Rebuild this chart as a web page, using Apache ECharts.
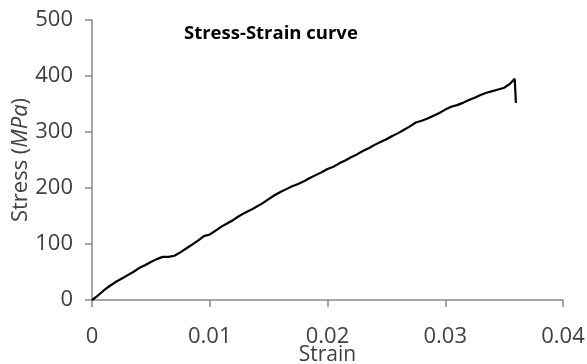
<!DOCTYPE html>
<html>
<head>
<meta charset="utf-8">
<script src="https://cdn.jsdelivr.net/npm/echarts@6/dist/echarts.min.js"></script>
<style>
html,body{margin:0;padding:0;background:#fff;}
#c{width:587px;height:364px;}
</style>
</head>
<body>
<div id="c"></div>
<script>
const strain = [0,0.0005,0.001,0.0015,0.002,0.0025,0.003,0.0035,0.004,0.0045,0.005,0.0055,0.006,0.0065,0.007,0.0075,0.008,0.0085,0.009,0.0095,0.01,0.0105,0.011,0.0115,0.012,0.0125,0.013,0.0135,0.014,0.0145,0.015,0.0155,0.016,0.0165,0.017,0.0175,0.018,0.0185,0.019,0.0195,0.02,0.0205,0.021,0.0215,0.022,0.0225,0.023,0.0235,0.024,0.0245,0.025,0.0255,0.026,0.0265,0.027,0.0275,0.028,0.0285,0.029,0.0295,0.03,0.0305,0.031,0.0315,0.032,0.0325,0.033,0.0335,0.034,0.0345,0.035,0.0355,0.0359,0.036];
const stress = [0,8,17,25,32,38,44,50,57,62,68,73,77,77,79,85,92,99,106,114,117,124,131,137,143,150,156,161,167,173,180,187,193,198,203,207,212,218,223,228,234,238,244,249,255,260,266,271,277,282,287,293,298,304,310,317,320,324,329,334,340,345,348,352,357,361,366,370,373,376,379,386,395,352];
const xTicks = [0,0.01,0.02,0.03,0.04];
const yTicks = [0,100,200,300,400,500];
const titleText = 'Stress-Strain curve';

const chart = echarts.init(document.getElementById('c'), null, {renderer:'canvas'});
const font = 'Open Sans';
chart.setOption({
  animation:false,
  backgroundColor:'#fff',
  title:{text:titleText,left:179,top:19,textStyle:{fontFamily:font,fontWeight:'bold',fontSize:18.5,color:'#000'}},
  grid:{left:92,right:24,top:20,bottom:64,containLabel:false,outerBoundsMode:'none'},
  xAxis:{
    type:'value',min:0,max:0.04,interval:0.01,
    name:'Strain',nameLocation:'middle',nameGap:45,nameMoveOverlap:false,
    nameTextStyle:{fontFamily:font,fontSize:21,color:'#404040'},
    axisLine:{show:true,lineStyle:{color:'#898989',width:1.5}},
    axisTick:{show:true,inside:false,length:7,lineStyle:{color:'#898989',width:1.5}},
    axisLabel:{fontFamily:font,fontSize:22,color:'#404040',margin:26,hideOverlap:false,
      formatter:v=>{const t=xTicks.find(x=>Math.abs(x-v)<1e-9);return t===undefined?'':String(t);}},
    splitLine:{show:false}
  },
  yAxis:{
    type:'value',min:0,max:500,interval:100,
    name:'{a|Stress (}{b|MPa}{a|)}',nameLocation:'middle',nameGap:60,nameMoveOverlap:false,
    nameTextStyle:{rich:{a:{fontFamily:font,fontSize:22,color:'#404040'},b:{fontFamily:font,fontSize:22,fontStyle:'italic',color:'#404040'}}},
    axisLine:{show:true,lineStyle:{color:'#898989',width:1.5}},
    axisTick:{show:true,inside:false,length:7,lineStyle:{color:'#898989',width:1.5}},
    axisLabel:{fontFamily:font,fontSize:22,color:'#404040',margin:19,
      formatter:v=>{const t=yTicks.find(x=>Math.abs(x-v)<1e-9);return t===undefined?'':String(t);}},
    splitLine:{show:false}
  },
  series:[{
    type:'line',
    data:strain.map((s,i)=>[s,stress[i]]),
    showSymbol:false,symbol:'none',smooth:false,
    lineStyle:{color:'#000',width:2.2}
  }]
});
</script>
</body>
</html>
